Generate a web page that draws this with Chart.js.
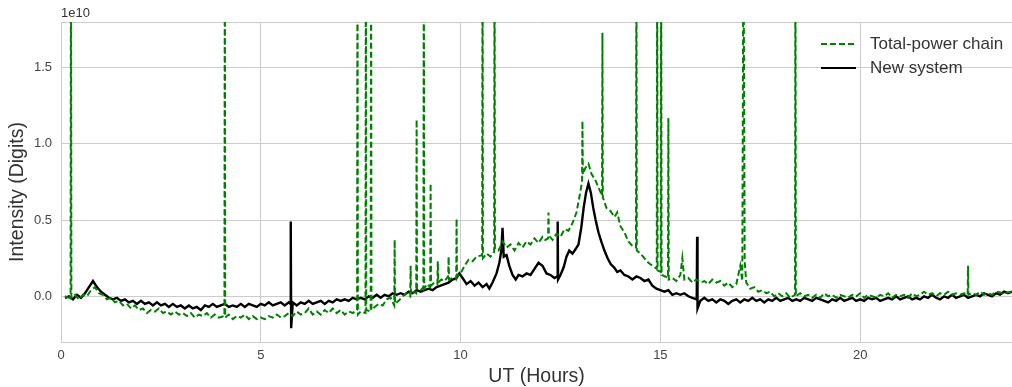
<!DOCTYPE html>
<html lang="en">
<head>
    <meta charset="UTF-8">
    <title>Total-power chain vs new system</title>
    <script src="https://cdn.jsdelivr.net/npm/chart.js"></script>
    <style>
        * { box-sizing: border-box; margin: 0; padding: 0; }
        body { background: #ffffff; width: 1012px; height: 387px; overflow: hidden; }
        .chart-box { position: relative; width: 1012px; height: 387px; }
    </style>
</head>
<body>
    <div class="chart-box">
        <canvas id="intensityChart"></canvas>
    </div>

    <script>
        // Values are in units of 1e10 digits
        const tpHours = [
            0.1, 0.2, 0.24, 0.25, 0.26, 0.35, 0.45, 0.55, 0.65, 0.75,
            0.85, 0.95, 1.05, 1.15, 1.25, 1.35, 1.45, 1.55, 1.65, 1.75,
            1.85, 1.95, 2.05, 2.15, 2.25, 2.35, 2.45, 2.55, 2.65, 2.75,
            2.85, 2.95, 3.05, 3.15, 3.25, 3.35, 3.45, 3.55, 3.65, 3.75,
            3.85, 3.95, 4.09, 4.1, 4.11, 4.2, 4.3, 4.4, 4.5, 4.6,
            4.7, 4.8, 4.9, 5.0, 5.1, 5.2, 5.3, 5.4, 5.5, 5.6,
            5.7, 5.8, 5.9, 6.0, 6.1, 6.2, 6.3, 6.4, 6.5, 6.6,
            6.7, 6.8, 6.9, 7.0, 7.1, 7.2, 7.3, 7.41, 7.42, 7.43,
            7.5, 7.62, 7.63, 7.64, 7.75, 7.76, 7.77, 7.85, 7.95, 8.05,
            8.15, 8.25, 8.34, 8.35, 8.36, 8.45, 8.55, 8.65, 8.74, 8.75,
            8.76, 8.84, 8.89, 8.9, 8.91, 9.0, 9.07, 9.08, 9.09, 9.16,
            9.24, 9.25, 9.26, 9.34, 9.42, 9.43, 9.44, 9.52, 9.6, 9.69,
            9.7, 9.71, 9.8, 9.89, 9.9, 9.91, 10.0, 10.1, 10.2, 10.3,
            10.4, 10.54, 10.55, 10.56, 10.65, 10.75, 10.84, 10.85, 10.86, 10.95,
            11.05, 11.15, 11.25, 11.35, 11.45, 11.55, 11.65, 11.75, 11.85, 11.95,
            12.05, 12.12, 12.19, 12.2, 12.21, 12.3, 12.4, 12.5, 12.6, 12.7,
            12.8, 12.9, 12.98, 13.04, 13.05, 13.06, 13.12, 13.2, 13.28, 13.36,
            13.44, 13.54, 13.55, 13.56, 13.65, 13.75, 13.85, 13.92, 14.0, 14.1,
            14.2, 14.3, 14.39, 14.4, 14.41, 14.5, 14.6, 14.7, 14.8, 14.91,
            14.92, 14.93, 15.01, 15.02, 15.03, 15.12, 15.19, 15.2, 15.21, 15.3,
            15.4, 15.5, 15.55, 15.6, 15.7, 15.8, 15.9, 16.0, 16.1, 16.2,
            16.3, 16.4, 16.5, 16.6, 16.7, 16.8, 16.9, 17.0, 17.05, 17.08,
            17.11, 17.15, 17.25, 17.35, 17.45, 17.55, 17.65, 17.75, 17.85, 17.95,
            18.05, 18.15, 18.25, 18.37, 18.38, 18.39, 18.5, 18.6, 18.7, 18.8,
            18.9, 19.0, 19.1, 19.2, 19.3, 19.4, 19.5, 19.6, 19.7, 19.8,
            19.9, 20.0, 20.1, 20.2, 20.3, 20.4, 20.5, 20.6, 20.7, 20.8,
            20.9, 21.0, 21.1, 21.2, 21.3, 21.4, 21.5, 21.6, 21.7, 21.8,
            21.9, 22.0, 22.1, 22.2, 22.3, 22.4, 22.5, 22.6, 22.69, 22.7,
            22.71, 22.8, 22.9, 23.0, 23.1, 23.2, 23.3, 23.4, 23.6, 23.8
        ];
        const tpValues = [
            0.0, -0.01, 0.0, 2.5, -0.01, 0.01, -0.02, 0.01, 0.0, 0.04,
            0.06, 0.02, 0.01, -0.02, -0.01, -0.04, -0.03, -0.06, -0.05, -0.08,
            -0.06, -0.09, -0.08, -0.11, -0.09, -0.10, -0.08, -0.11, -0.10, -0.12,
            -0.10, -0.12, -0.11, -0.13, -0.11, -0.14, -0.12, -0.13, -0.11, -0.14,
            -0.12, -0.14, -0.13, 2.5, -0.14, -0.12, -0.15, -0.13, -0.14, -0.12,
            -0.15, -0.13, -0.15, -0.14, -0.15, -0.13, -0.14, -0.12, -0.14, -0.13,
            -0.11, -0.13, -0.10, -0.12, -0.11, -0.08, -0.12, -0.10, -0.12, -0.09,
            -0.11, -0.08, -0.11, -0.09, -0.12, -0.10, -0.11, -0.09, 2.5, -0.12,
            -0.10, -0.11, 2.5, -0.09, -0.10, 2.5, -0.09, -0.07, -0.05, -0.06,
            -0.02, -0.01, -0.06, 0.37, -0.05, -0.03, 0.00, 0.02, 0.00, 0.20,
            0.01, 0.03, 0.02, 1.16, 0.05, 0.04, 0.06, 2.5, 0.05, 0.08,
            0.06, 0.74, 0.07, 0.09, 0.08, 0.23, 0.09, 0.11, 0.10, 0.13,
            0.26, 0.11, 0.12, 0.11, 0.51, 0.13, 0.15, 0.20, 0.24, 0.23,
            0.26, 0.27, 2.5, 0.25, 0.28, 0.26, 0.29, 2.5, 0.31, 0.30,
            0.36, 0.32, 0.34, 0.30, 0.35, 0.32, 0.36, 0.34, 0.38, 0.35,
            0.39, 0.37, 0.38, 0.55, 0.40, 0.37, 0.41, 0.39, 0.44, 0.43,
            0.48, 0.55, 0.66, 0.75, 1.15, 0.80, 0.84, 0.87, 0.80, 0.77,
            0.72, 0.66, 1.73, 0.65, 0.58, 0.56, 0.52, 0.55, 0.46, 0.42,
            0.36, 0.33, 0.32, 2.5, 0.30, 0.28, 0.25, 0.22, 0.20, 0.18,
            2.5, 0.17, 0.16, 2.5, 0.14, 0.13, 0.12, 1.17, 0.11, 0.12,
            0.10, 0.14, 0.25, 0.11, 0.12, 0.09, 0.11, 0.09, 0.10, 0.08,
            0.11, 0.09, 0.10, 0.07, 0.09, 0.06, 0.08, 0.20, 0.10, 2.5,
            0.23, 0.09, 0.05, 0.06, 0.03, 0.04, 0.02, 0.03, 0.00, 0.02,
            0.00, 0.02, -0.01, 0.01, 2.5, 0.00, 0.02, 0.00, 0.01, -0.01,
            0.01, -0.01, 0.02, 0.00, 0.01, -0.01, 0.01, 0.00, -0.01, 0.01,
            0.00, 0.02, -0.01, 0.01, 0.00, -0.01, 0.01, 0.00, 0.02, -0.01,
            0.01, 0.00, 0.01, -0.01, 0.02, 0.00, 0.01, 0.03, 0.01, 0.02,
            0.00, 0.02, 0.01, 0.03, 0.01, 0.02, 0.01, 0.02, 0.01, 0.20,
            0.01, 0.02, 0.01, 0.03, 0.01, 0.02, 0.01, 0.03, 0.02, 0.03
        ];

        const nsHours = [
            0.1, 0.2, 0.3, 0.4, 0.5, 0.6, 0.7, 0.8, 0.9, 1.0,
            1.1, 1.2, 1.3, 1.4, 1.5, 1.6, 1.7, 1.8, 1.9, 2.0,
            2.1, 2.2, 2.3, 2.4, 2.5, 2.6, 2.7, 2.8, 2.9, 3.0,
            3.1, 3.2, 3.3, 3.4, 3.5, 3.6, 3.7, 3.8, 3.9, 4.0,
            4.1, 4.2, 4.3, 4.4, 4.5, 4.6, 4.7, 4.8, 4.9, 5.0,
            5.1, 5.2, 5.3, 5.4, 5.5, 5.6, 5.7, 5.74, 5.75, 5.76,
            5.8, 5.9, 6.0, 6.1, 6.2, 6.3, 6.4, 6.5, 6.6, 6.7,
            6.8, 6.9, 7.0, 7.1, 7.2, 7.3, 7.4, 7.5, 7.6, 7.7,
            7.8, 7.9, 8.0, 8.1, 8.2, 8.3, 8.4, 8.5, 8.6, 8.7,
            8.8, 8.9, 9.0, 9.1, 9.2, 9.3, 9.4, 9.5, 9.6, 9.7,
            9.8, 9.9, 9.97, 10.05, 10.15, 10.25, 10.35, 10.45, 10.55, 10.65,
            10.72, 10.8, 10.9, 10.97, 11.02, 11.05, 11.08, 11.15, 11.22, 11.3,
            11.38, 11.45, 11.55, 11.65, 11.75, 11.85, 11.95, 12.05, 12.15, 12.25,
            12.35, 12.42, 12.43, 12.44, 12.5, 12.58, 12.65, 12.72, 12.8, 12.88,
            12.95, 13.02, 13.08, 13.14, 13.2, 13.26, 13.32, 13.38, 13.45, 13.52,
            13.6, 13.68, 13.76, 13.84, 13.92, 14.0, 14.1, 14.2, 14.3, 14.4,
            14.5, 14.6, 14.7, 14.8, 14.9, 15.0, 15.1, 15.2, 15.3, 15.4,
            15.5, 15.6, 15.7, 15.8, 15.91, 15.92, 15.93, 16.0, 16.1, 16.2,
            16.3, 16.4, 16.5, 16.6, 16.7, 16.8, 16.9, 17.0, 17.1, 17.2,
            17.3, 17.4, 17.5, 17.6, 17.7, 17.8, 17.9, 18.0, 18.1, 18.2,
            18.3, 18.4, 18.5, 18.6, 18.7, 18.8, 18.9, 19.0, 19.1, 19.2,
            19.3, 19.4, 19.5, 19.6, 19.7, 19.8, 19.9, 20.0, 20.1, 20.2,
            20.3, 20.4, 20.5, 20.6, 20.7, 20.8, 20.9, 21.0, 21.1, 21.2,
            21.3, 21.4, 21.5, 21.6, 21.7, 21.8, 21.9, 22.0, 22.1, 22.2,
            22.3, 22.4, 22.5, 22.6, 22.7, 22.8, 22.9, 23.0, 23.1, 23.2,
            23.3, 23.4, 23.5, 23.6, 23.7, 23.8
        ];
        const nsValues = [
            -0.01, 0.00, -0.02, 0.01, -0.01, 0.02, 0.06, 0.10, 0.06, 0.03,
            0.01, -0.01, -0.02, -0.01, -0.03, -0.02, -0.04, -0.03, -0.05, -0.03,
            -0.05, -0.04, -0.06, -0.04, -0.06, -0.05, -0.07, -0.05, -0.07, -0.06,
            -0.08, -0.06, -0.08, -0.07, -0.09, -0.06, -0.07, -0.05, -0.07, -0.06,
            -0.05, -0.07, -0.06, -0.07, -0.05, -0.07, -0.05, -0.06, -0.07, -0.05,
            -0.06, -0.04, -0.06, -0.05, -0.04, -0.06, -0.04, -0.05, 0.49, -0.21,
            -0.04, -0.06, -0.04, -0.05, -0.03, -0.05, -0.04, -0.03, -0.05, -0.03,
            -0.04, -0.02, -0.03, -0.02, -0.03, -0.01, -0.02, -0.01, -0.02, 0.00,
            -0.01, 0.01, -0.01, 0.01, 0.00, 0.02, 0.01, 0.02, 0.01, 0.03,
            0.02, 0.04, 0.03, 0.04, 0.05, 0.04, 0.06, 0.07, 0.08, 0.09,
            0.11, 0.12, 0.15, 0.12, 0.08, 0.10, 0.07, 0.09, 0.06, 0.08,
            0.05, 0.09, 0.15, 0.22, 0.30, 0.45, 0.26, 0.27, 0.20, 0.14,
            0.11, 0.14, 0.13, 0.15, 0.14, 0.18, 0.22, 0.20, 0.15, 0.14,
            0.12, 0.13, 0.49, 0.11, 0.14, 0.19, 0.26, 0.30, 0.28, 0.31,
            0.34, 0.45, 0.58, 0.68, 0.74, 0.68, 0.58, 0.50, 0.42, 0.36,
            0.30, 0.25, 0.21, 0.19, 0.16, 0.17, 0.14, 0.13, 0.11, 0.13,
            0.12, 0.10, 0.11, 0.07, 0.05, 0.04, 0.03, 0.04, 0.01, 0.02,
            0.01, 0.02, 0.00, -0.01, -0.02, 0.39, -0.08, -0.03, -0.01, -0.03,
            -0.02, -0.04, -0.02, -0.03, -0.05, -0.03, -0.02, -0.04, -0.02, -0.03,
            -0.01, -0.03, -0.02, -0.04, -0.02, -0.03, -0.01, -0.03, -0.02, -0.01,
            -0.03, -0.02, -0.03, -0.01, -0.02, -0.03, -0.01, -0.02, -0.03, -0.04,
            -0.02, -0.03, -0.01, -0.03, -0.02, -0.01, -0.03, -0.02, -0.03, -0.01,
            -0.02, -0.01, -0.03, -0.02, -0.01, -0.02, 0.00, -0.02, -0.01, 0.00,
            -0.02, -0.01, -0.02, 0.00, -0.01, 0.01, -0.01, -0.02, 0.00, -0.01,
            0.01, -0.01, 0.00, 0.01, -0.01, 0.00, 0.01, 0.00, 0.02, 0.01,
            0.00, 0.02, 0.01, 0.03, 0.02, 0.03
        ];

        const xTicks = [0, 5, 10, 15, 20];
        const yTicks = [0.0, 0.5, 1.0, 1.5];

        const FONT = "'Liberation Sans', Arial, sans-serif";
        const GRID = '#cccccc';

        function toPoints(xs, ys) {
            return xs.map((x, i) => ({ x: x, y: ys[i] }));
        }

        // Extra text: axis titles, offset label, legend and top border
        const decorations = {
            id: 'decorations',
            beforeDatasetsDraw(chart) {
                const { ctx, chartArea } = chart;
                ctx.save();
                ctx.strokeStyle = GRID;
                ctx.lineWidth = 1;
                ctx.beginPath();
                ctx.moveTo(chartArea.left, chartArea.top + 0.5);
                ctx.lineTo(chartArea.right, chartArea.top + 0.5);
                ctx.stroke();
                ctx.restore();
            },
            afterDraw(chart) {
                const { ctx, chartArea } = chart;
                ctx.save();
                ctx.fillStyle = '#333333';

                // offset text
                ctx.font = '13px ' + FONT;
                ctx.textAlign = 'left';
                ctx.textBaseline = 'middle';
                ctx.fillText('1e10', chartArea.left, 13);

                // x title
                ctx.font = '19.5px ' + FONT;
                ctx.textAlign = 'center';
                ctx.fillText('UT (Hours)', (chartArea.left + chartArea.right) / 2, 377);

                // y title
                ctx.save();
                ctx.translate(18, 192);
                ctx.rotate(-Math.PI / 2);
                ctx.fillText('Intensity (Digits)', 0, 0);
                ctx.restore();

                // legend
                const items = [
                    { label: 'Total-power chain', color: '#008000', dash: [6, 3], y: 44 },
                    { label: 'New system', color: '#000000', dash: [], y: 68 }
                ];
                ctx.font = '17px ' + FONT;
                ctx.textAlign = 'left';
                items.forEach(it => {
                    ctx.strokeStyle = it.color;
                    ctx.lineWidth = 2;
                    ctx.setLineDash(it.dash);
                    ctx.beginPath();
                    ctx.moveTo(821, it.y);
                    ctx.lineTo(856, it.y);
                    ctx.stroke();
                    ctx.setLineDash([]);
                    ctx.fillStyle = '#333333';
                    ctx.fillText(it.label, 870, it.y);
                });
                ctx.restore();
            }
        };

        const ctx = document.getElementById('intensityChart').getContext('2d');
        new Chart(ctx, {
            type: 'line',
            data: {
                datasets: [
                    {
                        label: 'Total-power chain',
                        data: toPoints(tpHours, tpValues),
                        borderColor: '#008000',
                        borderWidth: 2,
                        borderDash: [6, 3],
                        pointRadius: 0,
                        tension: 0,
                        fill: false
                    },
                    {
                        label: 'New system',
                        data: toPoints(nsHours, nsValues),
                        borderColor: '#000000',
                        borderWidth: 2.4,
                        pointRadius: 0,
                        tension: 0,
                        fill: false
                    }
                ]
            },
            options: {
                responsive: true,
                maintainAspectRatio: false,
                animation: false,
                layout: { padding: { top: 22, right: 0, left: 0, bottom: 0 } },
                plugins: {
                    legend: { display: false },
                    tooltip: { enabled: false }
                },
                scales: {
                    x: {
                        type: 'linear',
                        min: 0,
                        max: 23.8,
                        afterBuildTicks: scale => { scale.ticks = xTicks.map(v => ({ value: v })); },
                        afterFit: scale => { scale.height = 45; },
                        grid: { color: GRID, drawTicks: false, lineWidth: 1 },
                        border: { display: true, color: GRID },
                        ticks: {
                            padding: 6,
                            color: '#444444',
                            font: { family: FONT, size: 13 },
                            callback: v => String(v)
                        }
                    },
                    y: {
                        min: -0.3,
                        max: 1.8,
                        afterBuildTicks: scale => { scale.ticks = yTicks.map(v => ({ value: v })); },
                        afterFit: scale => { scale.width = 61; },
                        grid: { color: GRID, drawTicks: false, lineWidth: 1 },
                        border: { display: true, color: GRID },
                        ticks: {
                            padding: 9,
                            color: '#444444',
                            font: { family: FONT, size: 13 },
                            callback: v => v.toFixed(1)
                        }
                    }
                }
            },
            plugins: [decorations]
        });
    </script>
</body>
</html>
